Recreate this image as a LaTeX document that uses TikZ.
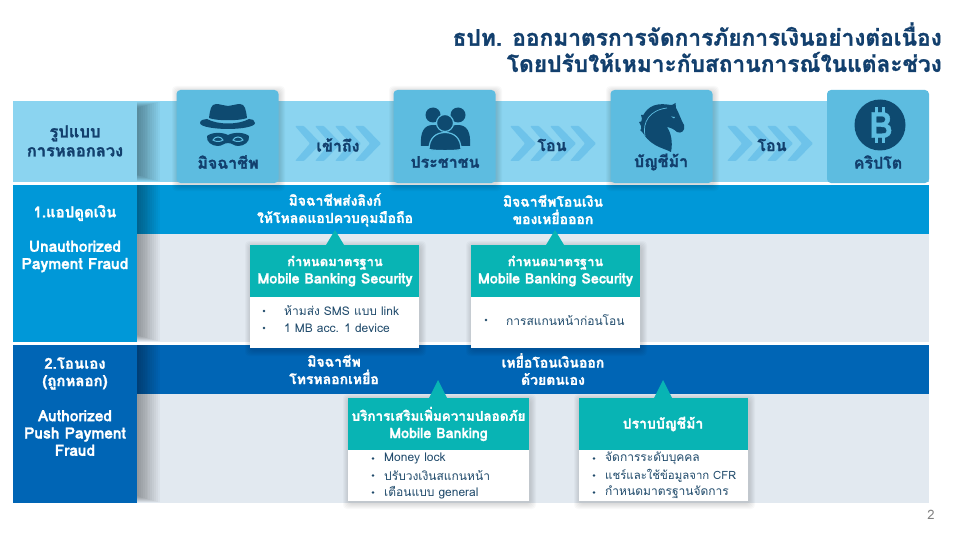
\documentclass[tikz,border=0pt]{standalone}
\usepackage{fontspec}
\setmainfont[Script=Thai,BoldFeatures={FakeBold=1.2}]{Loma}
\AtBeginDocument{\normallineskiplimit=-100pt\relax\lineskiplimit=-100pt\relax}
\definecolor{navy}{HTML}{123F6D}
\definecolor{iconblue}{HTML}{0E4A70}
\definecolor{bandlight}{HTML}{8BD4F0}
\definecolor{tileblue}{HTML}{5DBCE0}
\definecolor{chev}{HTML}{6EC3EA}
\definecolor{rowone}{HTML}{0098D8}
\definecolor{rowtwo}{HTML}{0065B5}
\definecolor{bodygrey}{HTML}{E2E9F0}
\definecolor{teal}{HTML}{08B4B4}
\definecolor{bodytext}{HTML}{1F4A6B}
\newcommand{\softbox}[4]{\foreach \i in {1,...,6}{\fill[black,opacity=.022,rounded corners=4pt] (#1-\i+1,#2-\i+2) rectangle (#3+\i+1,#4+\i+2);}}
\newcommand{\sideshade}[4]{\foreach \i in {1,...,12}{\fill[black,opacity=.032] (#1,#2+#4*\i) rectangle (#1+1.9*13-1.9*\i,#3-0.55*\i);}}
\newcommand{\chevrons}[1]{\foreach \k in {0,20,40,60}{\fill[chev,rounded corners=1pt] (#1+\k,126) -- (#1+\k+9,126) -- (#1+\k+26,143.5) -- (#1+\k+9,161) -- (#1+\k,161) -- (#1+\k+15,143.5) -- cycle;}}
\tikzset{
 tt/.style={font=\bfseries\fontsize{#1}{17.3}\selectfont,inner sep=0pt,align=center},
 tt/.default=14,
 dark/.style={tt=16,text=navy},
 light/.style={tt=#1,text=white},
 light/.default=14,
 body/.style={font=\fontsize{12}{12}\selectfont,text=bodytext,inner sep=0pt,anchor=west},
 bul/.style={circle,fill=bodytext,minimum size=2.8pt,inner sep=0pt},
 tile/.style={rectangle,fill=tileblue,rounded corners=4pt,inner sep=0pt,minimum width=102pt,minimum height=93pt},
}
\begin{document}
\begin{tikzpicture}[x=1pt,y=-1pt]
\useasboundingbox (0,0) rectangle (960,540);
\fill[white] (0,0) rectangle (960,540);
% title
\node[tt=22.7,text=navy,anchor=east] (t1) at (942,34) {ธปท. ออกมาตรการจัดการภัยการเงินอย่างต่อเนื่อง};
\node[tt=22.7,text=navy,anchor=east] (t2) at (942,62) {โดยปรับให้เหมาะกับสถานการณ์ในแต่ละช่วง};
% row 0
\fill[bandlight] (13,101) rectangle (929,182);
\sideshade{137}{101}{182}{.55}
% row 1
\fill[rowone] (137,185) rectangle (929,234);
\fill[bodygrey] (137,234) rectangle (929,342);
\sideshade{137}{185}{342}{0}
\fill[rowone] (13,185) rectangle (137,342);
% row 2
\fill[rowtwo] (137,345) rectangle (929,394);
\fill[bodygrey] (137,394) rectangle (929,503);
\sideshade{137}{345}{503}{0}
\fill[rowtwo] (13,345) rectangle (137,503);
% chevrons
\chevrons{295}
\chevrons{510}
\chevrons{727}
% tiles
\softbox{177}{90}{278}{183}
\softbox{394}{90}{495}{183}
\softbox{611}{90}{712}{183}
\node[tile] (tileA) at (227.5,136.5) {};
\node[tile] (tileB) at (444.5,136.5) {};
\node[tile] (tileC) at (661.5,136.5) {};
\node[tile] (tileD) at (878,136.5) {};
% spy
\fill[iconblue] (209,118) .. controls (210,110) and (211,104) .. (216,104) .. controls (221,104) and (224,106) .. (228,106) .. controls (232,106) and (235,104) .. (240,104) .. controls (245,104) and (246,110) .. (247,118) .. controls (240,121) and (216,121) .. (209,118) -- cycle;
\fill[iconblue] (200,123) .. controls (200,120) and (204,119) .. (207,119) .. controls (218,125) and (238,125) .. (249,119) .. controls (252,119) and (255,120) .. (255,123) .. controls (255,127) and (240,129) .. (228,129) .. controls (216,129) and (200,127) .. (200,123) -- cycle;
\fill[iconblue] (207,136) .. controls (212,132) and (222,132) .. (228,135) .. controls (234,132) and (244,132) .. (249,136) .. controls (250,142) and (244,146) .. (238,146) .. controls (234,146) and (232,143) .. (228,143) .. controls (224,143) and (222,146) .. (218,146) .. controls (212,146) and (206,142) .. (207,136) -- cycle;
\draw[tileblue,line width=1pt,fill=iconblue] (213,140) .. controls (215,136) and (221,136) .. (223,140) .. controls (221,142) and (215,142) .. (213,140) -- cycle;
\draw[tileblue,line width=1pt,fill=iconblue] (233,140) .. controls (235,136) and (241,136) .. (243,140) .. controls (241,142) and (235,142) .. (233,140) -- cycle;
% people
\fill[iconblue] (433,115) circle (7.5);
\fill[iconblue] (458,115) circle (7.5);
\fill[iconblue] (421,146) .. controls (420,132) and (424,125) .. (433,125) .. controls (442,125) and (445,130) .. (445,135) -- (445,146) -- cycle;
\fill[iconblue] (470,146) .. controls (471,132) and (467,125) .. (458,125) .. controls (449,125) and (445,130) .. (445,135) -- (445,146) -- cycle;
\fill[iconblue,draw=tileblue,line width=1.2pt] (445,123) circle (8.5);
\fill[iconblue,draw=tileblue,line width=1.2pt] (429,149.5) .. controls (429,138) and (436,132.5) .. (445,132.5) .. controls (454,132.5) and (461,138) .. (461,149.5) .. controls (455,151) and (435,151) .. (429,149.5) -- cycle;
% horse
\fill[iconblue] (641,128) .. controls (640,116) and (647,106) .. (658,104.5) .. controls (664,103.5) and (669,105) .. (672,105) -- (675.5,103) -- (676,108) .. controls (679,113) and (681,120) .. (684,125) .. controls (685.5,131) and (681,134) .. (677,132) .. controls (674,129) and (670,127.5) .. (667,127) .. controls (671,133) and (673,142) .. (671,152) .. controls (664,148) and (647,146) .. (641,128) -- cycle;
\fill[iconblue] (641,115) -- (645,115) -- (642,119) -- cycle;
\fill[iconblue] (639,122) -- (643,121) -- (641,126) -- cycle;
\fill[iconblue] (640,130) -- (643,128) -- (644,134) -- cycle;
\draw[tileblue,line width=.7pt] (645,136) .. controls (642,122) and (650,110) .. (667,108);
\fill[tileblue] (671,116.5) -- (675,117) -- (674,118.5) -- cycle;
% bitcoin
\fill[iconblue] (880,125) circle (25.5);
\node[tt=36,text=tileblue] (btc) at (881,125) {B};
\fill[tileblue] (875,107) rectangle (878,113);
\fill[tileblue] (882,107) rectangle (885,113);
\fill[tileblue] (875,137) rectangle (878,143);
\fill[tileblue] (882,137) rectangle (885,143);
% left labels
\node[tt=16.5,text=navy,font=\bfseries\fontsize{16.5}{19}\selectfont] (lab0) at (75,141) {รูปแบบ\\การหลอกลวง};
\node[light=15] (lab1a) at (75,213) {1.แอปดูดเงิน};
\node[light=15.5] (lab1b) at (75,256.5) {Unauthorized\\Payment Fraud};
\node[light=15] (lab2a) at (75,373.5) {2.โอนเอง\\(ถูกหลอก)};
\node[light=15.5] (lab2b) at (75,433) {Authorized\\Push Payment\\Fraud};
% tile labels
\node[dark] (a) at (228,162) {มิจฉาชีพ};
\node[dark] (b) at (445,162) {ประชาชน};
\node[dark] (c) at (661,162) {บัญชีม้า};
\node[dark] (d) at (878,162) {คริปโต};
\node[dark] (go1) at (338,145) {เข้าถึง};
\node[dark] (go2) at (552,145) {โอน};
\node[dark] (go3) at (772,145) {โอน};
% header labels
\node[light] (h1) at (335,210) {มิจฉาชีพส่งลิงก์\\ให้โหลดแอปควบคุมมือถือ};
\node[light] (h2) at (553,209.5) {มิจฉาชีพโอนเงิน\\ของเหยื่อออก};
\node[light] (h3) at (334,369.5) {มิจฉาชีพ\\โทรหลอกเหยื่อ};
\node[light] (h4) at (553,369) {เหยื่อโอนเงินออก\\ด้วยตนเอง};
% callouts
\softbox{250}{245}{419}{348}
\softbox{471}{245}{640}{348}
\softbox{348}{398}{529}{501}
\softbox{579}{398}{748}{501}
\fill[white] (250,297) rectangle (419,348);
\fill[teal] (250,245) rectangle (419,297);
\fill[teal] (326,245) -- (335,230) -- (344,245) -- cycle;
\fill[white] (471,297) rectangle (640,348);
\fill[teal] (471,245) rectangle (640,297);
\fill[teal] (546,245) -- (555,230) -- (564,245) -- cycle;
\fill[white] (348,450) rectangle (529,501);
\fill[teal] (348,398) rectangle (529,450);
\fill[teal] (429,398) -- (438,380) -- (447,398) -- cycle;
\fill[white] (579,450) rectangle (748,501);
\fill[teal] (579,398) rectangle (748,450);
\fill[teal] (654,398) -- (663,380) -- (672,398) -- cycle;
\node[light=13] (k1) at (335,271) {กำหนดมาตรฐาน\\{\fontsize{14.3}{17.3}\selectfont Mobile Banking Security}};
\node[light=13] (k2) at (555.5,271) {กำหนดมาตรฐาน\\{\fontsize{14.3}{17.3}\selectfont Mobile Banking Security}};
\node[light=13.5] (k3) at (438.5,424) {บริการเสริมเพิ่มความปลอดภัย\\{\fontsize{14.3}{17.3}\selectfont Mobile Banking}};
\node[light=14] (k4) at (663,424) {ปราบบัญชีม้า};
% bullets
\node[bul] (b11) at (264,311) {};
\node[bul] (b12) at (264,328) {};
\node[body] (x11) at (284,311) {ห้ามส่ง SMS แบบ link};
\node[body] (x12) at (284,328) {1 MB acc. 1 device};
\node[bul] (b21) at (486,320) {};
\node[body] (x21) at (506,320) {การสแกนหน้าก่อนโอน};
\node[bul] (b31) at (373,458.5) {};
\node[bul] (b32) at (373,475.5) {};
\node[bul] (b33) at (373,492.5) {};
\node[body] (x31) at (384,458.5) {Money lock};
\node[body] (x32) at (384,475.5) {ปรับวงเงินสแกนหน้า};
\node[body] (x33) at (384,492.5) {เตือนแบบ general};
\node[bul] (b41) at (594,458.5) {};
\node[bul] (b42) at (594,475.5) {};
\node[bul] (b43) at (594,492.5) {};
\node[body] (x41) at (605,458.5) {จัดการระดับบุคคล};
\node[body,font=\fontsize{11.4}{12}\selectfont] (x42) at (605,475.5) {แชร์และใช้ข้อมูลจาก CFR};
\node[body] (x43) at (605,492.5) {กำหนดมาตรฐานจัดการ};
\node[font=\fontsize{13}{13}\selectfont,text=gray,inner sep=0pt] (pg) at (931,515) {2};
\end{tikzpicture}
\end{document}
